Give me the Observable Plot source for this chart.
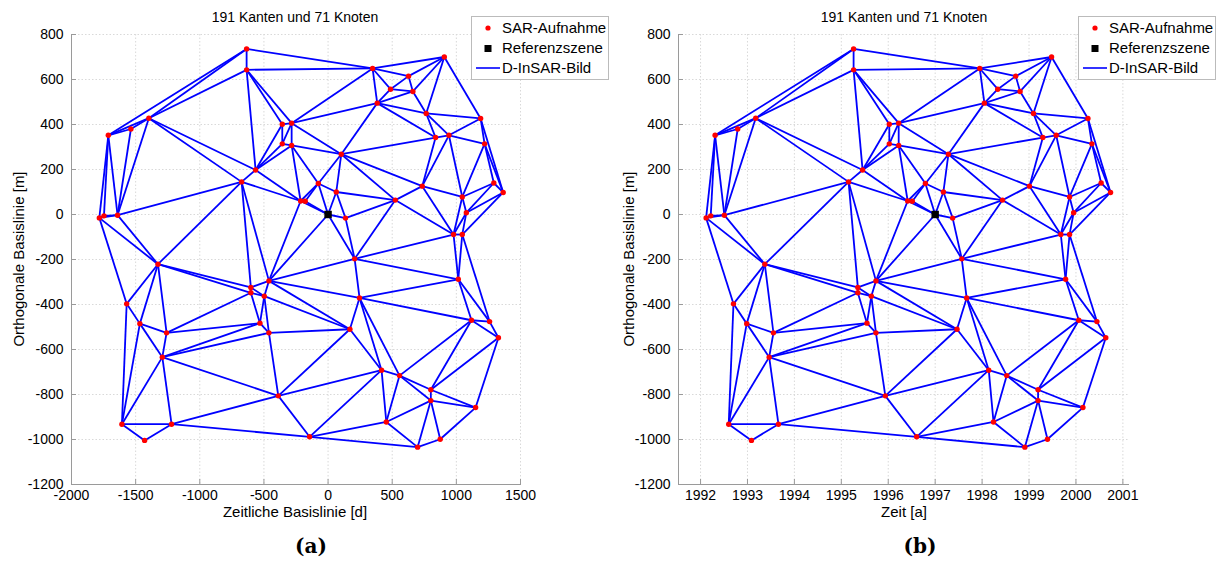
<!DOCTYPE html>
<html>
<head>
<meta charset="utf-8">
<script src="https://cdn.jsdelivr.net/npm/d3@7"></script>
<script src="https://cdn.jsdelivr.net/npm/@observablehq/plot@0.6"></script>
<style>
  body { margin: 0; background: #fff; font-family: "Liberation Sans", Arial, sans-serif; }
  #fig { position: relative; width: 1220px; height: 563px; overflow: hidden; }
  .panel { position: absolute; top: 0; width: 610px; height: 563px; }
  .panel svg { position: absolute; left: 0; top: 0; }
  .title { position: absolute; top: 9px; font-size: 14px; transform: translateX(-50%); white-space: nowrap; }
  .xlab { position: absolute; top: 503px; font-size: 15px; transform: translateX(-50%); white-space: nowrap; }
  .ylab { position: absolute; font-size: 15px; white-space: nowrap; transform: translate(-50%, -50%) rotate(-90deg); }
  .cap { position: absolute; top: 534px; font-family: "DejaVu Serif", "Liberation Serif", serif; font-weight: bold; font-size: 20px; transform: translateX(-50%); }
  .legend { position: absolute; top: 16px; width: 136px; height: 62px; border: 1px solid #bbb; background: #fff; font-size: 15px; }
  .legend .row { position: absolute; left: 0; height: 20px; line-height: 20px; }
  .legend .txt { position: absolute; left: 30px; white-space: nowrap; }
  .legend svg { position: absolute; left: 0; top: 0; }
</style>
</head>
<body>
<div id="fig"></div>
<script>
// Temporal baseline [d] and perpendicular baseline [m] of every SAR acquisition
const baselineDays = [
  -1713, -1537, -1397, -635, -635, -357, -284, -357, -284, 103,
  -565, -674, -76, 347, 906, 627, 487, 661, 383, 765,
  1189, 838, 942, 1220, 734, 1292, 1365, 524, 1046, 1078,
  978, 1046, 1015, 245, 1118, 1259, 1328, 64, -214, -178,
  136, 207, -461, -602, -602, -497, -531, -461, 170, -388,
  -144, 417, 557, 801, 801, 1150, 454, 874, 698, -1259,
  -1292, -1607, -1220, -1430, -1783, -1747, -1641, -1326, -1570, -1467
];
const baselinePerp = [
  352, 380, 428, 736, 643, 401, 406, 314, 307, 268,
  198, 145, 138, 649, 700, 615, 557, 547, 495, 449,
  427, 342, 352, 314, 126, 140, 98, 64, 78, 8,
  -89, -89, -288, -371, -470, -476, -548, 100, 60, 59,
  -16, -197, -295, -324, -348, -363, -483, -526, -510, -806,
  -988, -692, -716, -779, -827, -858, -922, -999, -1034, -526,
  -634, -932, -932, -1004, -15, -6, -3, -221, -397, -485
];
// Reference scene (master): zero baseline in both directions, acquired at the start of 1997
const refDays = [0];
const refPerp = [0];
const refYear = 1997.0;

// Long outer pairs of the triangulation that are not formed as interferograms
const skippedPairs = [[63, 58], [63, 50], [64, 61], [26, 36], [26, 35], [3, 14]];

const xTicksA = [-2000, -1500, -1000, -500, 0, 500, 1000, 1500];
const xTicksB = [1992, 1993, 1994, 1995, 1996, 1997, 1998, 1999, 2000, 2001];
const yTicks = [-1200, -1000, -800, -600, -400, -200, 0, 200, 400, 600, 800];

// Nodes: all acquisitions plus the reference scene
const nodes = baselineDays.map((d, i) => ({id: i, d, m: baselinePerp[i], ref: false}))
  .concat(refDays.map((d, i) => ({id: baselineDays.length + i, d, m: refPerp[i], ref: true})));
// Acquisition epoch = reference epoch + temporal baseline
nodes.forEach(n => n.t = refYear + n.d / 365.25);

// Interferogram network: Delaunay triangulation in normalised baseline space
const skip = new Set(skippedPairs.map(([a, b]) => Math.min(a, b) + "-" + Math.max(a, b)));
const del = d3.Delaunay.from(nodes, n => n.d / 3500, n => n.m / 2000);
const edges = [];
const {triangles, halfedges} = del;
for (let e = 0; e < triangles.length; e++) {
  if (e > halfedges[e]) {
    const a = nodes[triangles[e]];
    const b = nodes[triangles[e % 3 === 2 ? e - 2 : e + 1]];
    if (!skip.has(Math.min(a.id, b.id) + "-" + Math.max(a.id, b.id))) edges.push({a, b});
  }
}

const gridStyle = {stroke: "#d9d9d9", strokeDasharray: "1.5,2", strokeOpacity: 1};
const axisGray = "#9a9a9a";
const fmt = d => String(d);

function panel(xKey, xDomain, xTicks, ml, mr) {
  const plotW = 610 - ml - mr, plotH = 563 - 34 - 79;
  return Plot.plot({
    width: 610, height: 563,
    marginLeft: ml, marginRight: mr, marginTop: 34, marginBottom: 79,
    style: {fontFamily: "Liberation Sans, Arial, sans-serif", fontSize: "14px", color: "#000"},
    x: {domain: xDomain, label: null},
    y: {domain: [-1200, 800], label: null},
    marks: [
      Plot.gridX(xTicks, gridStyle),
      Plot.gridY(yTicks, gridStyle),
      Plot.frame({anchor: "left", stroke: axisGray}),
      Plot.frame({anchor: "bottom", stroke: axisGray}),
      Plot.ruleX(xTicks, {stroke: axisGray, insetTop: plotH - 5}),
      Plot.ruleY(yTicks, {stroke: axisGray, insetRight: plotW - 5}),
      Plot.axisX(xTicks, {tickSize: 0, tickPadding: 6, fontSize: 14, tickFormat: fmt}),
      Plot.axisY(yTicks, {tickSize: 0, tickPadding: 8, fontSize: 14, tickFormat: fmt}),
      Plot.link(edges, {
        x1: e => e.a[xKey], y1: e => e.a.m, x2: e => e.b[xKey], y2: e => e.b.m,
        stroke: "#0000ff", strokeWidth: 1.8
      }),
      Plot.dot(nodes.filter(n => !n.ref), {x: xKey, y: "m", r: 2.7, fill: "#ff0000", stroke: "none"}),
      Plot.dot(nodes.filter(n => n.ref), {x: xKey, y: "m", r: 4.2, symbol: "square", fill: "#000", stroke: "none"})
    ]
  });
}

function legend(left) {
  const box = document.createElement("div");
  box.className = "legend";
  box.style.left = left + "px";
  box.innerHTML = `
    <svg width="136" height="62">
      <circle cx="16" cy="11" r="2.6" fill="#ff0000"/>
      <rect x="12.5" y="28" width="7" height="7" fill="#000"/>
      <line x1="4" x2="28" y1="51" y2="51" stroke="#0000ff" stroke-width="1.6"/>
    </svg>
    <div class="row" style="top:1px"><span class="txt">SAR-Aufnahme</span></div>
    <div class="row" style="top:21px"><span class="txt">Referenzszene</span></div>
    <div class="row" style="top:41px"><span class="txt">D-InSAR-Bild</span></div>`;
  return box;
}

function addPanel(offset, plot, center, xLabel, cap, legendLeft) {
  const p = document.createElement("div");
  p.className = "panel";
  p.style.left = offset + "px";
  p.appendChild(plot);
  const t = document.createElement("div");
  t.className = "title"; t.style.left = center + "px";
  t.textContent = "191 Kanten und 71 Knoten";
  p.appendChild(t);
  const xl = document.createElement("div");
  xl.className = "xlab"; xl.style.left = center + "px"; xl.textContent = xLabel;
  p.appendChild(xl);
  const yl = document.createElement("div");
  yl.className = "ylab"; yl.style.left = "18px"; yl.style.top = "259px";
  yl.textContent = "Orthogonale Basislinie [m]";
  p.appendChild(yl);
  const c = document.createElement("div");
  c.className = "cap"; c.style.left = (center + 16) + "px"; c.textContent = cap;
  p.appendChild(c);
  p.appendChild(legend(legendLeft));
  document.getElementById("fig").appendChild(p);
}

addPanel(0, panel("d", [-2000, 1500], xTicksA, 71, 90), 295, "Zeitliche Basislinie [d]", "(a)", 471);
addPanel(610, panel("t", [1991.53, 2001.12], xTicksB, 68, 92), 294, "Zeit [a]", "(b)", 468);
</script>
</body>
</html>
